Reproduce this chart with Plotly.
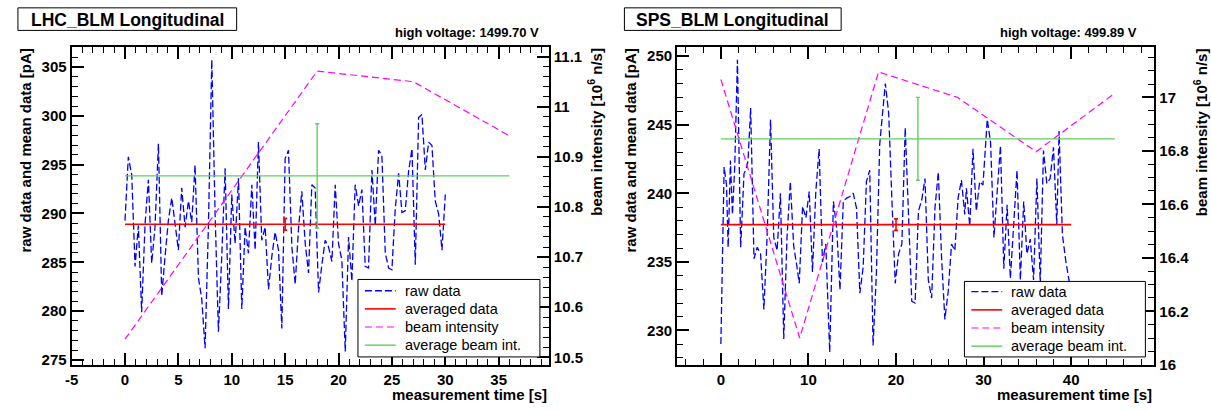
import plotly.graph_objects as go

W, H = 1211, 412

# ------------------------------------------------------------------ data: LHC_BLM
lhc_title = "LHC_BLM Longitudinal"
lhc_hv = "high voltage: 1499.70 V"
lhc_time = [0.0, 0.31, 0.63, 0.94, 1.25, 1.56, 1.88, 2.19, 2.5, 2.81, 3.13, 3.44, 3.75, 4.06, 4.38, 4.69,
            5.0, 5.31, 5.63, 5.94, 6.25, 6.56, 6.88, 7.19, 7.5, 7.81, 8.13, 8.44, 8.75, 9.06, 9.38, 9.69,
            10.0, 10.31, 10.63, 10.94, 11.25, 11.56, 11.88, 12.19, 12.5, 12.81, 13.13, 13.44, 13.75, 14.06, 14.38, 14.69,
            15.0, 15.31, 15.63, 15.94, 16.25, 16.56, 16.88, 17.19, 17.5, 17.81, 18.13, 18.44, 18.75, 19.06, 19.38, 19.69,
            20.0, 20.31, 20.63, 20.94, 21.25, 21.56, 21.88, 22.19, 22.5, 22.81, 23.13, 23.44, 23.75, 24.06, 24.38, 24.69,
            25.0, 25.31, 25.63, 25.94, 26.25, 26.56, 26.88, 27.19, 27.5, 27.81, 28.13, 28.44, 28.75, 29.06, 29.38, 29.69,
            30.0]
lhc_raw = [289.27, 295.80, 293.96, 284.58, 288.76, 279.89, 288.93, 293.46, 284.91, 288.60,
           297.14, 281.56, 285.58, 289.27, 291.61, 289.10, 286.25, 292.62, 288.60, 291.28,
           289.10, 294.96, 283.40, 281.23, 276.20, 288.60, 305.75, 289.94, 277.88, 285.58,
           294.63, 280.22, 291.95, 286.92, 293.62, 280.22, 288.60, 285.92, 292.95, 286.25,
           297.31, 287.26, 288.60, 282.23, 285.58, 288.09, 286.25, 278.21, 295.63, 296.47,
           286.59, 282.73, 288.43, 292.28, 286.92, 283.91, 292.95, 292.62, 281.90, 284.74,
           287.26, 286.59, 285.08, 292.95, 286.92, 285.25, 275.87, 287.59, 283.07, 292.95,
           290.77, 292.45, 284.58, 284.41, 294.46, 288.76, 296.47, 295.97, 285.92, 284.41,
           284.24, 290.44, 294.12, 290.10, 290.27, 294.29, 296.64, 284.74, 299.82, 300.15,
           294.46, 297.31, 296.97, 291.28, 289.94, 286.25, 291.95]
lhc_beam_time = [0, 18, 27, 36]
lhc_beam = [10.536, 11.071, 11.050, 10.942]
lhc_avg_time, lhc_avg_time_err = [15], [15]
lhc_avg, lhc_avg_err = [288.9], [0.6]
lhc_avgbeam_time, lhc_avgbeam_time_err = [18], [18]
lhc_avgbeam, lhc_avgbeam_err = [10.862], [0.104]
lhc_xticks = [-5, 0, 5, 10, 15, 20, 25, 30, 35]
lhc_xticktext = ["-5", "0", "5", "10", "15", "20", "25", "30", "35"]

# ------------------------------------------------------------------ data: SPS_BLM
sps_title = "SPS_BLM Longitudinal"
sps_hv = "high voltage: 499.89 V"
sps_time = [0.0, 0.37, 0.64, 0.83, 1.09, 1.32, 1.58, 1.89, 2.26, 2.64, 2.91, 3.10, 3.40, 3.78, 4.15, 4.53,
            4.91, 5.29, 5.67, 6.04, 6.42, 6.80, 7.18, 7.55, 7.93, 8.31, 8.69, 8.95, 9.33, 9.71, 10.09, 10.46,
            10.84, 11.22, 11.60, 11.98, 12.43, 12.85, 13.22, 13.60, 13.98, 14.36, 14.74, 15.11, 15.49, 15.87,
            16.25, 16.62, 17.00, 17.38, 17.76, 18.14, 18.78, 19.16, 19.53, 19.91, 20.29, 20.67, 21.05, 21.42,
            21.80, 22.18, 22.56, 22.94, 23.31, 23.69, 24.07, 24.45, 24.83, 25.20, 25.58, 25.96, 26.34, 26.72,
            27.09, 27.47, 27.85, 28.04, 28.42, 28.79, 29.17, 29.55, 29.93, 30.42, 30.80, 31.18, 31.55, 31.93,
            32.31, 32.69, 33.06, 33.44, 33.82, 34.20, 34.58, 34.95, 35.33, 35.71, 36.09, 36.47, 36.84, 37.22,
            37.60, 37.98, 38.36, 38.62, 39.00, 39.38, 39.75, 40.02]
sps_raw = [229.02, 241.92, 240.61, 236.07, 242.40, 238.46, 241.92, 249.73, 236.07, 241.44,
           241.80, 242.40, 246.22, 235.23, 236.07, 235.59, 231.53, 237.02, 245.39, 236.78,
           235.83, 240.01, 229.38, 236.78, 240.85, 236.19, 234.63, 233.44, 239.05, 238.22,
           240.13, 234.27, 240.13, 243.24, 234.99, 236.31, 228.42, 239.41, 237.50, 232.96,
           239.41, 239.65, 239.77, 240.01, 238.93, 232.72, 234.63, 240.85, 241.68, 228.90,
           234.16, 243.59, 248.01, 245.86, 239.53, 233.44, 235.59, 236.31, 244.79, 238.93,
           232.12, 232.00, 238.70, 239.53, 241.08, 233.68, 232.36, 238.93, 241.56, 235.35,
           230.81, 232.84, 236.31, 235.83, 239.65, 240.97, 238.46, 240.37, 237.62, 243.24,
           238.70, 240.85, 240.61, 245.39, 243.71, 236.78, 240.13, 243.47, 234.51, 239.17,
           233.80, 237.50, 241.68, 233.68, 239.41, 235.59, 236.66, 233.68, 241.08, 233.44,
           243.12, 240.73, 241.08, 243.35, 237.74, 244.55, 237.02, 235.11, 233.68, 233.0]
sps_beam_time = [0, 9, 18, 27, 36, 45]
sps_beam = [17.067, 16.100, 17.095, 17.000, 16.797, 17.016]
sps_avg_time, sps_avg_time_err = [20], [20]
sps_avg, sps_avg_err = [237.72], [0.42]
sps_avgbeam_time, sps_avgbeam_time_err = [22.5], [22.5]
sps_avgbeam, sps_avgbeam_err = [16.845], [0.155]
sps_xticks = [0, 10, 20, 30, 40]
sps_xticktext = ["0", "10", "20", "30", "40"]

legend_labels = ["raw data", "averaged data", "beam intensity", "average beam int."]

# ------------------------------------------------------------------ styling
FONT = "Liberation Sans, Arial, Helvetica, sans-serif"
BLUE, RED, MAGENTA, GREEN = "#0000ff", "#ff0000", "#ff00ff", "#5fcf5f"
DASH_RAW, DASH_BEAM = "7px,3px", "7px,4px"


def px(x):
    return x / W


def py(y):
    return 1 - y / H


fig = go.Figure()


def add_panel(sfx_x, sfx_y, sfx_y2, time, raw, btime, beam,
              at, ate, av, ave, bt, bte, bv, bve):
    fig.add_trace(go.Scatter(x=time, y=raw, mode="lines", xaxis="x" + sfx_x, yaxis="y" + sfx_y,
                             line=dict(color=BLUE, width=1.3, dash=DASH_RAW), showlegend=False))
    fig.add_trace(go.Scatter(x=btime, y=beam, mode="lines", xaxis="x" + sfx_x, yaxis="y" + sfx_y2,
                             line=dict(color=MAGENTA, width=1.2, dash=DASH_BEAM), showlegend=False))
    fig.add_trace(go.Scatter(x=at, y=av, mode="markers", xaxis="x" + sfx_x, yaxis="y" + sfx_y,
                             marker=dict(size=1, color=RED), showlegend=False,
                             error_x=dict(type="data", array=ate, color=RED, thickness=1.6, width=0),
                             error_y=dict(type="data", array=ave, color=RED, thickness=1.6, width=2)))
    fig.add_trace(go.Scatter(x=bt, y=bv, mode="markers", xaxis="x" + sfx_x, yaxis="y" + sfx_y2,
                             marker=dict(size=1, color=GREEN), showlegend=False,
                             error_x=dict(type="data", array=bte, color=GREEN, thickness=1.4, width=0),
                             error_y=dict(type="data", array=bve, color=GREEN, thickness=1.4, width=2)))


add_panel("", "", "2", lhc_time, lhc_raw, lhc_beam_time, lhc_beam,
          lhc_avg_time, lhc_avg_time_err, lhc_avg, lhc_avg_err,
          lhc_avgbeam_time, lhc_avgbeam_time_err, lhc_avgbeam, lhc_avgbeam_err)
add_panel("2", "3", "4", sps_time, sps_raw, sps_beam_time, sps_beam,
          sps_avg_time, sps_avg_time_err, sps_avg, sps_avg_err,
          sps_avgbeam_time, sps_avgbeam_time_err, sps_avgbeam, sps_avgbeam_err)

tickfont = dict(family=FONT, size=15, color="black", weight="bold")
ydom = [py(372), py(47.5)]


def xaxis(dom, rng, tv, tt, mdt):
    return dict(domain=dom, range=rng, tickmode="array", tickvals=tv, ticktext=tt,
                ticks="inside", ticklen=12, tickwidth=1.5, tickcolor="black",
                showline=True, linecolor="black", linewidth=2, mirror="ticks",
                showgrid=False, zeroline=False, tickfont=tickfont,
                minor=dict(ticks="inside", ticklen=6, tickwidth=1.2, tickcolor="black",
                           tickmode="linear", tick0=0, dtick=mdt, showgrid=False))


def yaxis(anchor, rng, dt, mdt, side="left", overlay=None):
    d = dict(domain=ydom, range=rng, anchor=anchor, side=side, tickmode="linear", tick0=0, dtick=dt,
             ticks="inside", ticklen=12, tickwidth=1.5, tickcolor="black",
             showline=True, linecolor="black", linewidth=2, showgrid=False, zeroline=False,
             tickfont=tickfont,
             minor=dict(ticks="inside", ticklen=6, tickwidth=1.2, tickcolor="black",
                        tickmode="linear", tick0=0, dtick=mdt, showgrid=False))
    if overlay:
        d["overlaying"] = overlay
    return d


fig.update_layout(
    width=W, height=H, margin=dict(l=0, r=0, t=0, b=0),
    paper_bgcolor="white", plot_bgcolor="white", showlegend=False,
    font=dict(family=FONT, color="black"),
    xaxis=xaxis([px(65), px(545)], [-5, 39.7], lhc_xticks, lhc_xticktext, 1),
    yaxis=yaxis("x", [274.5, 307.1], 5, 1),
    yaxis2=yaxis("x", [10.485, 11.12], 0.1, 0.02, side="right", overlay="y"),
    xaxis2=dict(xaxis([px(674), px(1154)], [-5, 49.5], sps_xticks, sps_xticktext, 2), anchor="y3"),
    yaxis3=yaxis("x2", [227.5, 250.7], 5, 1),
    yaxis4=yaxis("x2", [16.0, 17.19], 0.2, 0.05, side="right", overlay="y3"),
)
fig.layout.xaxis.anchor = "y"

shapes = []
annots = []


def text(x, y, s, size, bold=False, xanchor="center", yanchor="middle", angle=0):
    annots.append(dict(xref="paper", yref="paper", x=px(x), y=py(y), text=s, showarrow=False,
                       xanchor=xanchor, yanchor=yanchor, textangle=angle,
                       font=dict(family=FONT, size=size, color="black",
                                 weight="bold" if bold else "normal")))


def rect(x0, y0, x1, y1, lw=1):
    shapes.append(dict(type="rect", xref="paper", yref="paper", x0=px(x0), x1=px(x1),
                       y0=py(y1), y1=py(y0), line=dict(color="black", width=lw),
                       fillcolor="white", layer="above"))


def seg(x0, x1, y, color, dash, width):
    shapes.append(dict(type="line", xref="paper", yref="paper", x0=px(x0), x1=px(x1),
                       y0=py(y), y1=py(y), line=dict(color=color, width=width, dash=dash),
                       layer="above"))


# panel titles
for (bx0, bx1, title) in [(11, 231, lhc_title), (621, 839, sps_title)]:
    rect(bx0, 8, bx1, 31)
    text((bx0 + bx1) / 2, 20, title, 17.5, bold=True)

text(537, 33, lhc_hv, 13, bold=True, xanchor="right")
text(1139, 33, sps_hv, 13, bold=True, xanchor="right")

# axis titles
for (xr, yl, yr) in [(545, 18.5, 591), (1154, 627, 1200)]:
    text(xr, 402, "measurement time [s]", 15, bold=True, xanchor="right")
    text(yl, 47, "raw data and mean data [pA]", 15, bold=True, yanchor="top", angle=-90)
    text(yr, 47, "beam intensity [10<sup>6</sup> n/s]", 15, bold=True, yanchor="top", angle=-90)

# legends
styles = [(BLUE, DASH_RAW, 1.3), (RED, "solid", 1.6), (MAGENTA, DASH_BEAM, 1.2), (GREEN, "solid", 1.4)]
for (lx0, ly0, lx1, ly1, rows) in [(353, 285, 536, 364, [296.5, 315, 333.5, 352]),
                                   (963, 287, 1145, 364, [297.5, 316, 334.5, 353])]:
    rect(lx0, ly0, lx1, ly1)
    for lab, yy, (c, d, w) in zip(legend_labels, rows, styles):
        seg(lx0 + 7, lx0 + 38, yy, c, d, w)
        text(lx0 + 45, yy, lab, 14.5, xanchor="left")

fig.update_layout(shapes=shapes, annotations=annots)
fig.write_html("out.html")
